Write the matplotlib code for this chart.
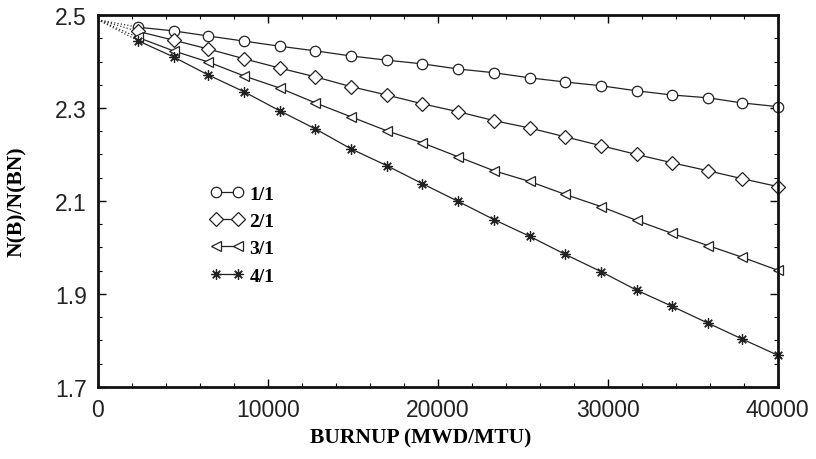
import numpy as np
import matplotlib.pyplot as plt
from matplotlib.ticker import MultipleLocator, FixedLocator, FormatStrFormatter

# burnup points (MWD/MTU)
burnup = [2350, 4450, 6500, 8600, 10700, 12800, 14900, 17000, 19100, 21200,
          23300, 25400, 27500, 29600, 31700, 33800, 35900, 37900, 40000]
start_burnup = 0
start_ratio = 2.49

r11 = [2.474, 2.466, 2.455, 2.444, 2.433, 2.423, 2.412, 2.403, 2.395, 2.384,
       2.376, 2.365, 2.356, 2.348, 2.337, 2.328, 2.322, 2.311, 2.303]
r21 = [2.465, 2.446, 2.427, 2.406, 2.386, 2.367, 2.346, 2.328, 2.309, 2.292,
       2.273, 2.257, 2.238, 2.219, 2.200, 2.182, 2.165, 2.148, 2.131]
r31 = [2.452, 2.423, 2.399, 2.369, 2.343, 2.311, 2.281, 2.251, 2.225, 2.195,
       2.165, 2.142, 2.114, 2.088, 2.058, 2.030, 2.004, 1.979, 1.951]
r41 = [2.445, 2.410, 2.371, 2.335, 2.294, 2.255, 2.212, 2.176, 2.137, 2.099,
       2.060, 2.024, 1.985, 1.948, 1.908, 1.873, 1.837, 1.803, 1.768]

y_ticks = [1.7, 1.9, 2.1, 2.3, 2.5]

series = [("1/1", r11, "o"), ("2/1", r21, "D"), ("3/1", r31, "<"), ("4/1", r41, (8, 2, 0))]

fig = plt.figure(figsize=(8.16, 4.6), dpi=100)
ax = fig.add_axes([0.120, 0.157, 0.833, 0.808])

for label, vals, mk in series:
    ms = 6.8 if mk == "D" else 7.5
    ax.plot([start_burnup, burnup[0]], [start_ratio, vals[0]], ":", color="#333333", lw=0.9)
    ax.plot(burnup, vals, color="#222222", lw=0.9, marker=mk, ms=ms,
            mfc="white", mec="#222222", mew=0.9, label=label, clip_on=False)

ax.set_xlim(0, 40000)
ax.set_ylim(1.7, 2.5)
ax.xaxis.set_major_locator(MultipleLocator(10000))
ax.xaxis.set_minor_locator(MultipleLocator(2000))
ax.yaxis.set_major_locator(FixedLocator(y_ticks))
ax.yaxis.set_minor_locator(MultipleLocator(0.05))
ax.yaxis.set_major_formatter(FormatStrFormatter("%.1f"))
ax.tick_params(which="both", direction="in", top=True, right=True)
ax.tick_params(which="major", length=6, width=1, labelsize=16.5, pad=8)
ax.tick_params(which="minor", length=3, width=0.8)
for lab in ax.get_xticklabels() + ax.get_yticklabels():
    lab.set_fontfamily("Liberation Sans")
    lab.set_color("#222222")
for sp in ax.spines.values():
    sp.set_linewidth(2)
    sp.set_color("#111111")

ax.set_xlabel("BURNUP (MWD/MTU)", fontfamily="Liberation Serif", fontweight="bold",
              fontsize=15.5)
ax.xaxis.set_label_coords(0.475, -0.11)
ax.set_ylabel("N(B)/N(BN)", fontfamily="Liberation Serif", fontweight="bold",
              fontsize=15.5)
ax.yaxis.set_label_coords(-0.105, 0.5)

leg = ax.legend(loc="upper left", bbox_to_anchor=(0.14, 0.59), frameon=False,
                numpoints=2, handlelength=1.7, handletextpad=0.3, labelspacing=0.5,
                prop={"family": "Liberation Serif", "weight": "bold", "size": 14})

fig.savefig("out.png", dpi=100)
